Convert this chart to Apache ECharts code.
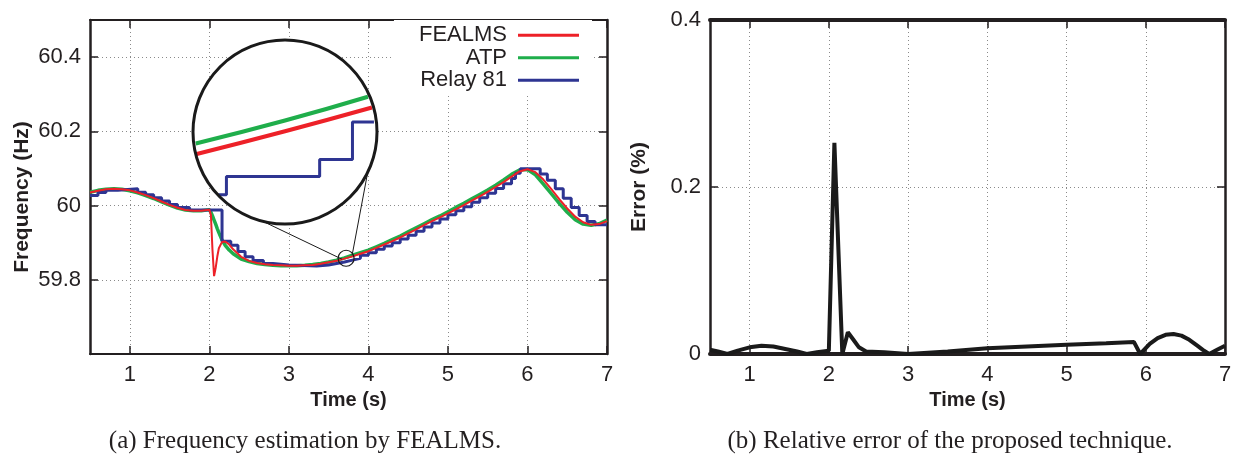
<!DOCTYPE html>
<html>
<head>
<meta charset="utf-8">
<script src="https://cdn.jsdelivr.net/npm/echarts@6/dist/echarts.min.js"></script>
<style>
  html, body { margin: 0; padding: 0; background: #fff; }
  #chart { width: 1235px; height: 460px; }
</style>
</head>
<body>
<div id="chart"></div>
<script>
// tick labels
const xTicks = [1, 2, 3, 4, 5, 6, 7];
const freqTicks = [59.8, 60, 60.2, 60.4];
const errTicks = [0, 0.2, 0.4];

// (a) frequency estimates, Hz
const time = [0.5, 0.6, 0.7, 0.8, 0.9, 1.0, 1.1, 1.2, 1.3, 1.4, 1.5, 1.6, 1.7, 1.8, 1.9, 2.0,
  2.02, 2.04, 2.06, 2.08, 2.1, 2.12, 2.16, 2.2, 2.25, 2.3,
  2.4, 2.5, 2.6, 2.7, 2.8, 2.9, 3.0, 3.1, 3.2, 3.3, 3.4, 3.5, 3.6, 3.7, 3.8, 3.9,
  4.0, 4.1, 4.2, 4.3, 4.4, 4.5, 4.6, 4.7, 4.8, 4.9, 5.0, 5.1, 5.2, 5.3, 5.4, 5.5,
  5.6, 5.7, 5.8, 5.9, 6.0, 6.1, 6.2, 6.3, 6.4, 6.5, 6.6, 6.7, 6.8, 6.9, 7.0];
const atp = [60.036, 60.041, 60.044, 60.045, 60.044, 60.040, 60.034, 60.027, 60.019, 60.010, 60.001, 59.993, 59.988, 59.986, 59.986, 59.989,
  59.982, 59.972, 59.961, 59.950, 59.938, 59.927, 59.907, 59.893, 59.880, 59.870,
  59.856, 59.849, 59.844, 59.841, 59.839, 59.838, 59.838, 59.838, 59.839, 59.841, 59.844, 59.848, 59.853, 59.859, 59.866, 59.873,
  59.880, 59.889, 59.898, 59.908, 59.918, 59.929, 59.940, 59.951, 59.962, 59.972, 59.983, 59.995, 60.006, 60.018, 60.030, 60.042,
  60.055, 60.069, 60.084, 60.096, 60.097, 60.083, 60.058, 60.032, 60.006, 59.982, 59.962, 59.950, 59.947, 59.951, 59.961];
const fealms = [60.035, 60.040, 60.044, 60.045, 60.044, 60.041, 60.035, 60.028, 60.020, 60.011, 60.002, 59.994, 59.988, 59.986, 59.986, 59.989,
  59.975, 59.880, 59.810, 59.832, 59.862, 59.885, 59.902, 59.903, 59.895, 59.882,
  59.862, 59.851, 59.845, 59.842, 59.840, 59.839, 59.838, 59.838, 59.839, 59.840, 59.843, 59.847, 59.851, 59.857, 59.863, 59.870,
  59.877, 59.886, 59.895, 59.904, 59.914, 59.925, 59.936, 59.947, 59.958, 59.968, 59.979, 59.990, 60.001, 60.013, 60.025, 60.037,
  60.050, 60.063, 60.078, 60.092, 60.098, 60.090, 60.070, 60.044, 60.017, 59.992, 59.970, 59.955, 59.948, 59.950, 59.958];
const relayTime = [0.5, 0.6, 0.7, 0.85, 1.1, 1.2, 1.3, 1.4, 1.5, 1.6, 1.75, 2.16, 2.27, 2.36, 2.45,
  2.55, 2.68, 2.8, 3.0, 3.35, 3.5, 3.6, 3.7, 3.8, 3.9, 4.0, 4.1, 4.2, 4.3, 4.4,
  4.5, 4.6, 4.7, 4.8, 4.9, 5.0, 5.1, 5.2, 5.3, 5.4, 5.5, 5.6, 5.7, 5.8, 5.85,
  5.91, 6.16, 6.25, 6.35, 6.45, 6.55, 6.65, 6.75, 6.85, 7.0];
const relay = [60.027, 60.035, 60.041, 60.045, 60.036, 60.029, 60.021, 60.012, 60.003, 59.995, 59.988, 59.904, 59.893, 59.876, 59.862,
  59.852, 59.844, 59.840, 59.837, 59.840, 59.844, 59.848, 59.853, 59.858, 59.866, 59.873, 59.882, 59.891, 59.900, 59.910,
  59.920, 59.931, 59.942, 59.953, 59.964, 59.975, 59.986, 59.997, 60.009, 60.021, 60.033, 60.046, 60.059, 60.073, 60.087,
  60.099, 60.085, 60.068, 60.045, 60.020, 59.995, 59.973, 59.957, 59.948, 59.948];

// zoomed view around t = 3.72 s
const zoomAtpTime = [3.6618, 3.72, 3.7741];
const zoomAtp = [59.8585, 59.8615, 59.8646];
const zoomFealmsTime = [3.6618, 3.72, 3.7767];
const zoomFealms = [59.8571, 59.8601, 59.8632];
const zoomRelayTime = [3.6766, 3.6818, 3.7426, 3.764, 3.778];
const zoomRelay = [59.8518, 59.8542, 59.8564, 59.8613, 59.8613];

// (b) relative error, %
const errTime = [0.5, 0.6, 0.72, 0.85, 1.0, 1.15, 1.3, 1.45, 1.6, 1.72, 1.85, 2.0, 2.07, 2.17, 2.24,
  2.31, 2.38, 2.47, 2.7, 3.0, 3.5, 4.0, 4.5, 5.0, 5.5, 5.85, 5.93, 6.05, 6.15, 6.25,
  6.35, 6.45, 6.55, 6.65, 6.72, 6.8, 6.9, 7.0];
const errValue = [0.005, 0.003, 0, 0.004, 0.008, 0.010, 0.009, 0.006, 0.003, 0, 0.002, 0.004, 0.253, 0, 0.026,
  0.017, 0.008, 0.003, 0.002, 0, 0.003, 0.007, 0.009, 0.011, 0.013, 0.0145, 0, 0.012, 0.019, 0.023,
  0.024, 0.022, 0.017, 0.010, 0.005, 0, 0.005, 0.010];

const pairs = (xs, ys) => xs.map((x, i) => [x, ys[i]]);

const FONT = '"Liberation Sans", Arial, sans-serif';
const INK = '#231f20';
const RED = '#ed2128', GREEN = '#1fae4b', BLUE = '#2e3592';

const grid = { type: [1, 3], color: '#8a8a8a', width: 1 };

// bottom / left axes carry labels, top / right ones only mirror the ticks
function xAxisAt(gridIndex, position, lineWidth) {
  const main = position === 'bottom';
  return {
    type: 'value', gridIndex, position, min: 0.5, max: 7, splitNumber: 6,
    axisLine: { show: true, onZero: false, lineStyle: { color: INK, width: lineWidth } },
    axisTick: { show: true, inside: true, length: 8, customValues: xTicks, lineStyle: { color: INK, width: 1.5 } },
    axisLabel: { show: main, customValues: xTicks, fontSize: 22, fontFamily: FONT, color: INK, margin: 10 },
    splitLine: { show: main, lineStyle: grid },
    name: main ? 'Time (s)' : '', nameLocation: 'middle', nameGap: 36, nameMoveOverlap: false,
    nameTextStyle: { fontSize: 20, fontWeight: 'bold', fontFamily: FONT, color: INK }
  };
}
function yAxisAt(gridIndex, position, min, max, ticks, name, nameGap, lineWidth, namePad) {
  const main = position === 'left';
  return {
    type: 'value', gridIndex, position, min, max, interval: 0.2,
    axisLine: { show: true, onZero: false, lineStyle: { color: INK, width: lineWidth } },
    axisTick: { show: true, inside: true, length: 8, customValues: ticks, lineStyle: { color: INK, width: 1.5 } },
    axisLabel: { show: main, customValues: ticks, fontSize: 22, fontFamily: FONT, color: INK, margin: 9 },
    splitLine: { show: main, lineStyle: grid },
    name: main ? name : '', nameLocation: 'middle', nameGap, nameMoveOverlap: false,
    nameTextStyle: { fontSize: 21, fontWeight: 'bold', fontFamily: FONT, color: INK, padding: namePad || 0 }
  };
}

const chart = echarts.init(document.getElementById('chart'));
chart.setOption({
  animation: false,
  backgroundColor: '#fff',
  grid: [
    { left: 90, top: 20, width: 517, height: 334, outerBoundsMode: 'none' },
    { left: 710, top: 20, width: 515, height: 334, outerBoundsMode: 'none' },
    { left: 193, top: 40, width: 184, height: 184, outerBoundsMode: 'none' }
  ],
  xAxis: [
    xAxisAt(0, 'bottom', 2),
    xAxisAt(0, 'top', 2),
    xAxisAt(1, 'bottom', 4),
    xAxisAt(1, 'top', 4),
    { type: 'value', gridIndex: 2, min: 3.66, max: 3.78, show: false }
  ],
  yAxis: [
    yAxisAt(0, 'left', 59.6, 60.5, freqTicks, 'Frequency (Hz)', 57, 2.5, [0, 20, 0, 0]),
    yAxisAt(0, 'right', 59.6, 60.5, freqTicks, '', 0, 2.5),
    yAxisAt(1, 'left', 0, 0.4, errTicks, 'Error (%)', 60, 2.5),
    yAxisAt(1, 'right', 0, 0.4, errTicks, '', 0, 2.5),
    { type: 'value', gridIndex: 2, min: 59.848, max: 59.872, show: false }
  ],
  legend: {
    data: ['FEALMS', 'ATP', 'Relay 81'],
    orient: 'vertical', align: 'right', right: 643, top: 20,
    icon: 'rect', itemWidth: 61, itemHeight: 3, itemGap: 0,
    padding: [4, 13, 3, 25], backgroundColor: '#fff', selectedMode: false,
    textStyle: { fontSize: 22, fontFamily: FONT, color: INK, lineHeight: 22.5, padding: [0, 6, 0, 0] }
  },
  series: [
    { name: 'ATP', type: 'line', xAxisIndex: 0, yAxisIndex: 0, data: pairs(time, atp),
      color: GREEN, showSymbol: false, symbol: 'none', lineStyle: { width: 3.5 }, z: 2 },
    { name: 'Relay 81', type: 'line', xAxisIndex: 0, yAxisIndex: 0, data: pairs(relayTime, relay),
      step: 'end', color: BLUE, showSymbol: false, symbol: 'none', lineStyle: { width: 3 }, z: 3 },
    { name: 'FEALMS', type: 'line', xAxisIndex: 0, yAxisIndex: 0, data: pairs(time, fealms),
      color: RED, showSymbol: false, symbol: 'none', lineStyle: { width: 2 }, z: 4 },
    { name: 'ATP zoom', type: 'line', xAxisIndex: 4, yAxisIndex: 4, data: pairs(zoomAtpTime, zoomAtp),
      smooth: true, color: GREEN, symbol: 'none', lineStyle: { width: 4 }, z: 5 },
    { name: 'FEALMS zoom', type: 'line', xAxisIndex: 4, yAxisIndex: 4, data: pairs(zoomFealmsTime, zoomFealms),
      smooth: true, color: RED, symbol: 'none', lineStyle: { width: 4 }, z: 5 },
    { name: 'Relay 81 zoom', type: 'line', xAxisIndex: 4, yAxisIndex: 4, data: pairs(zoomRelayTime, zoomRelay),
      step: 'end', color: BLUE, symbol: 'none', lineStyle: { width: 3 }, z: 5 },
    { name: 'Error', type: 'line', xAxisIndex: 2, yAxisIndex: 2, data: pairs(errTime, errValue),
      color: '#1a1a1a', symbol: 'none', lineStyle: { width: 4 }, z: 3 }
  ]
});

// magnifier: big circle around the zoom grid, small circle on the curve
const c = chart.convertToPixel({ xAxisIndex: 4, yAxisIndex: 4 }, [3.72, 59.86]);
const r = c[0] - chart.convertToPixel({ xAxisIndex: 4, yAxisIndex: 4 }, [3.66, 59.86])[0];
const s = chart.convertToPixel({ xAxisIndex: 0, yAxisIndex: 0 }, [3.72, 59.858]);
const onCircle = deg => [c[0] + r * Math.cos(deg * Math.PI / 180), c[1] + r * Math.sin(deg * Math.PI / 180)];
const p1 = onCircle(104), p2 = onCircle(26);
const caption = (text, x) => ({
  type: 'text', x, y: 441, z: 10,
  style: { text, fill: INK, font: '25px "Liberation Serif", "Times New Roman", serif', textAlign: 'center', textVerticalAlign: 'middle' }
});

chart.setOption({
  graphic: [
    { type: 'circle', shape: { cx: c[0], cy: c[1], r }, style: { fill: '#fff', stroke: null }, z: 1 },
    { type: 'circle', shape: { cx: c[0], cy: c[1], r }, style: { fill: null, stroke: '#1a1a1a', lineWidth: 3 }, z: 10 },
    { type: 'circle', shape: { cx: s[0], cy: s[1], r: 8 }, style: { fill: null, stroke: '#1a1a1a', lineWidth: 1.2 }, z: 10 },
    { type: 'line', shape: { x1: p1[0], y1: p1[1], x2: s[0] - 4, y2: s[1] + 1 }, style: { stroke: '#1a1a1a', lineWidth: 1 }, z: 10 },
    { type: 'line', shape: { x1: p2[0], y1: p2[1], x2: s[0] + 6, y2: s[1] - 3 }, style: { stroke: '#1a1a1a', lineWidth: 1 }, z: 10 },
    caption('(a) Frequency estimation by FEALMS.', 305),
    caption('(b) Relative error of the proposed technique.', 950)
  ]
});
</script>
</body>
</html>
